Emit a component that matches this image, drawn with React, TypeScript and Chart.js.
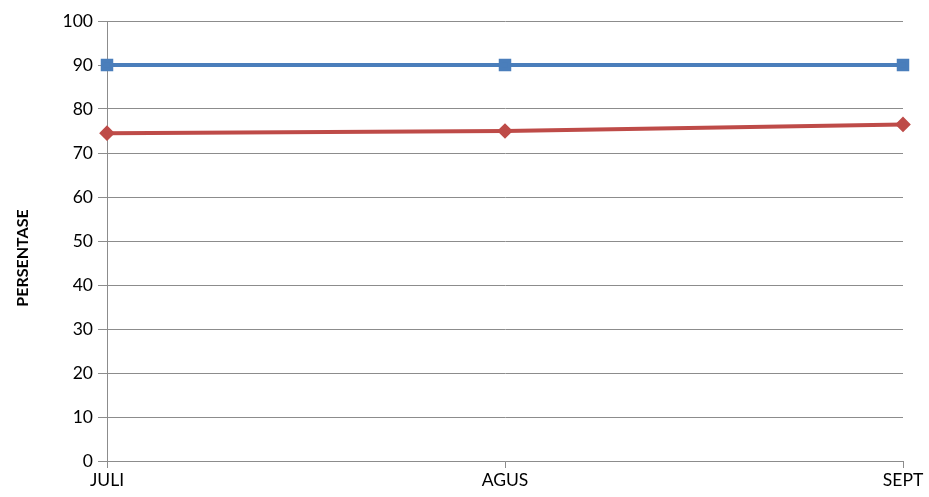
import React, { useEffect, useRef } from "react";
import { Chart, registerables } from "chart.js";

Chart.register(...registerables);

const categories = ["JULI", "AGUS", "SEPT"];
const seriesBlue = [90, 90, 90];
const seriesRed = [74.5, 75, 76.5];
const yTitle = "PERSENTASE";

const titlePlugin = {
  id: "yTitleCustom",
  afterDraw(chart: any) {
    const c = chart.ctx;
    c.save();
    c.translate(23, 258);
    c.rotate(-Math.PI / 2);
    c.fillStyle = "#000";
    c.font = "bold 16px Lato, 'DejaVu Sans', sans-serif";
    c.textAlign = "center";
    c.textBaseline = "middle";
    c.fillText(yTitle, 0, 0);
    c.restore();
  },
};

export default function App() {
  const ref = useRef<HTMLCanvasElement | null>(null);
  useEffect(() => {
    document.body.style.margin = "0";
    const ctx = ref.current!;
    const font = { family: "Lato, 'DejaVu Sans', sans-serif", size: 17.5 };
    const chart = new Chart(ctx, {
      type: "line",
      data: {
        labels: categories,
        datasets: [
          {
            label: "Blue",
            data: seriesBlue,
            borderColor: "#4A7EBB",
            backgroundColor: "#4A7EBB",
            borderWidth: 4,
            pointStyle: "rect",
            pointRadius: 6,
            pointHoverRadius: 6,
            tension: 0,
          },
          {
            label: "Red",
            data: seriesRed,
            borderColor: "#BE4B48",
            backgroundColor: "#BE4B48",
            borderWidth: 4,
            pointStyle: "rectRot",
            pointRadius: 5,
            pointHoverRadius: 5,
            tension: 0,
          },
        ],
      },
      options: {
        animation: false,
        responsive: false,
        maintainAspectRatio: false,
        layout: { padding: { top: 21, right: 26, left: 0, bottom: 0 } },
        plugins: { legend: { display: false }, tooltip: { enabled: false } },
        scales: {
          x: {
            offset: false,
            grid: { drawOnChartArea: false, drawTicks: true, tickLength: 7, color: "#8c8c8c" },
            border: { display: true, color: "#8c8c8c", width: 1 },
            ticks: { color: "#000", font, padding: 2, maxRotation: 0, autoSkip: false },
            afterFit: (s: any) => { s.height = 36; },
          },
          y: {
            min: 0,
            max: 100,
            ticks: { stepSize: 10, color: "#000", font, padding: 5 },
            grid: { color: "#8c8c8c", lineWidth: 1, tickLength: 9 },
            border: { display: true, color: "#8c8c8c", width: 1 },
            title: { display: false, text: yTitle },
            afterFit: (s: any) => { s.width = 107; },
          },
        },
      },
      plugins: [titlePlugin],
    });
    return () => chart.destroy();
  }, []);
  return (
    <div style={{ position: "absolute", left: 0, top: 0, width: 929, height: 497, background: "#fff" }}>
      <canvas ref={ref} width={929} height={497} style={{ width: 929, height: 497 }} />
    </div>
  );
}
